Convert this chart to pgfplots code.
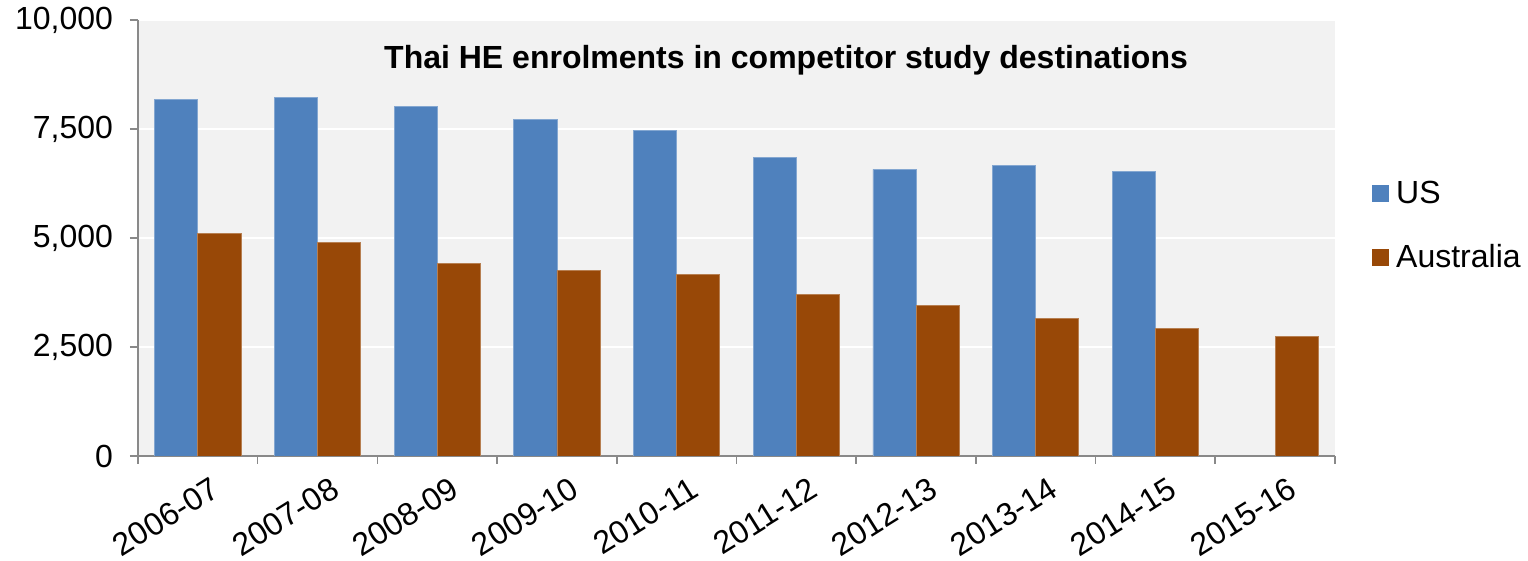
\documentclass[border=0pt]{standalone}
\usepackage{fontspec}
\setmainfont{Liberation Sans}
\usepackage{pgfplots}
\pgfplotsset{compat=1.18}
\definecolor{usblue}{HTML}{4F81BD}
\definecolor{aubrown}{HTML}{984807}
\definecolor{plotbg}{HTML}{F2F2F2}
\definecolor{axgray}{HTML}{898989}
\begin{document}
\begin{tikzpicture}
\path[use as bounding box] (-69pt,-52.5pt) rectangle (695pt,228pt);
\begin{axis}[
  at={(0pt,0pt)}, anchor=south west,
  scale only axis, width=598.5pt, height=218pt,
  xmin=-0.5, xmax=9.5, ymin=0, ymax=10000,
  axis background/.style={fill=plotbg},
  axis x line*=bottom, axis y line*=left,
  axis line style={draw=axgray, line width=0.8pt},
  ytick={0,2500,5000,7500,10000},
  scaled y ticks=false,
  ymajorgrids, grid style={draw=white, line width=1pt},
  xtick={0,...,9},
  xticklabels={2006-07,2007-08,2008-09,2009-10,2010-11,2011-12,2012-13,2013-14,2014-15,2015-16},
  major x tick style={draw=none},
  minor xtick={-0.5,0.5,...,9.5},
  minor x tick style={draw=axgray, line width=0.8pt},
  minor tick length=4pt,
  major tick length=4pt,
  y tick style={draw=axgray, line width=0.8pt},
  tick align=outside,
  yticklabel={\pgfmathprintnumber[fixed,precision=0,1000 sep={,},assume math mode=true]{\tick}},
  tick label style={font=\fontsize{16}{19}\selectfont},
  yticklabel style={xshift=-5pt},
  xticklabel style={rotate=32, anchor=north east, inner sep=0pt, xshift=2pt, yshift=-8pt},
  ybar, bar width=0.36,
  legend style={at={(1,0.523)}, anchor=west, xshift=18.5pt, draw=none, fill=none, inner sep=0pt,
    font=\fontsize{16}{19}\selectfont, row sep=18pt, column sep=3.5pt,
    nodes={inner sep=0pt, text height=11pt, text depth=3pt}},
  legend cell align=left,
]
\addplot[fill=usblue, draw=usblue!70!white, line width=0.4pt, bar shift=-0.18,
  legend image code/.code={\fill[usblue] (0pt,-2.5pt) rectangle (8pt,5.5pt);}]
  coordinates {(0,8172) (1,8225) (2,8018) (3,7713) (4,7468) (5,6857) (6,6575) (7,6659) (8,6529)};
\addlegendentry{US}
\addplot[fill=aubrown, draw=aubrown!70!white, line width=0.4pt, bar shift=0.18,
  legend image code/.code={\fill[aubrown] (0pt,-2.5pt) rectangle (8pt,5.5pt);}]
  coordinates {(0,5101) (1,4903) (2,4414) (3,4253) (4,4162) (5,3711) (6,3452) (7,3162) (8,2925) (9,2749)};
\addlegendentry{Australia}
\node[font=\bfseries\fontsize{16}{19}\selectfont, anchor=base] at (rel axis cs:0.5414,0.8876) {Thai HE enrolments in competitor study destinations};
\end{axis}
\end{tikzpicture}
\end{document}
